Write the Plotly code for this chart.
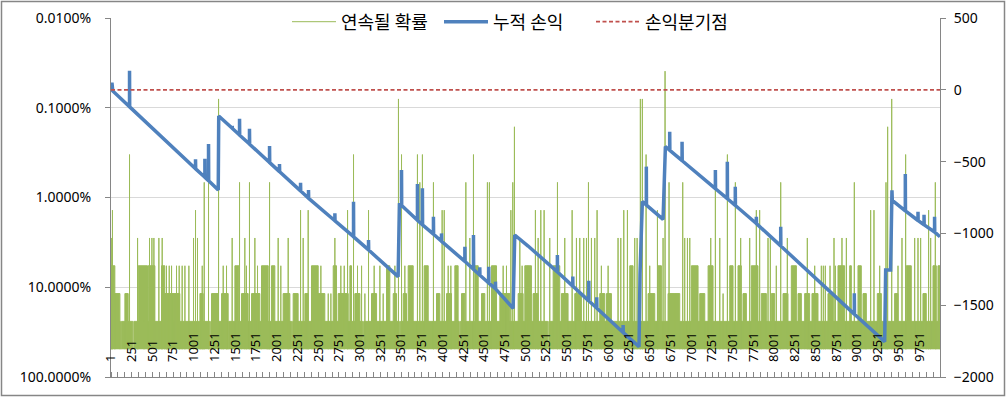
import plotly.graph_objects as go

# ---------------- data ----------------
N_TRADES = 10000

x_tick_vals = [1, 251, 501, 751, 1001, 1251, 1501, 1751, 2001, 2251, 2501, 2751, 3001, 3251,
               3501, 3751, 4001, 4251, 4501, 4751, 5001, 5251, 5501, 5751, 6001, 6251, 6501,
               6751, 7001, 7251, 7501, 7751, 8001, 8251, 8501, 8751, 9001, 9251, 9501, 9751]
x_tick_labels = [str(v) for v in x_tick_vals]

left_tick_vals = [0.0001, 0.001, 0.01, 0.1, 1.0]
left_tick_text = ["0.0100%", "0.1000%", "1.0000%", "10.0000%", "100.0000%"]
right_tick_vals = [-2000, -1500, -1000, -500, 0, 500]

# probability of a streak of length k (index k), read from the level steps
level_prob = [1.0, 0.49, 0.2401, 0.1176, 0.0576, 0.02825, 0.01384, 0.00678,
              0.00332, 0.00163, 0.000798, 0.000391]

# trades where the dense 2-streak band shows a gap
band_gap_trade = [120, 270, 400, 475, 680, 765, 1077, 1197, 1414, 1764, 1888, 2186, 2360,
                  2439, 3042, 3485, 4208, 4232, 5276, 6370, 7950, 8420, 9100]

# streak peaks (from trade, to trade, streak length)
streak_from = [1, 3, 18, 47, 168, 224, 321, 329, 449, 465, 494, 518, 578, 610, 618, 650, 670, 703,
               731, 771, 791, 823, 859, 892, 940, 996, 1020, 1044, 1073, 1101, 1125, 1177, 1213,
               1298, 1334, 1354, 1394, 1462, 1495, 1551, 1575, 1615, 1635, 1671, 1696, 1736, 1768,
               1816, 1913, 1937, 2017, 2049, 2077, 2138, 2198, 2287, 2319, 2339, 2379, 2419,
               2500, 2532, 2621, 2653, 2681, 2701, 2741, 2773, 2814, 2854, 2882, 2926, 2942, 2974,
               3023, 3063, 3107, 3143, 3175, 3244, 3284, 3324, 3405, 3425, 3468, 3505, 3525, 3545,
               3585, 3697, 3726, 3757, 3778, 3890, 3927, 3995, 4020, 4048, 4068, 4100, 4148, 4229,
               4281, 4329, 4373, 4389, 4470, 4541, 4565, 4590, 4691, 4731, 4771, 4824, 4847, 4867,
               4912, 4932, 4960, 4992,
               5032, 5092, 5120, 5153, 5185, 5225, 5293, 5334, 5386, 5434, 5474, 5563, 5595, 5615,
               5655, 5703, 5736, 5760, 5796, 5836, 5864, 5896, 5916, 5977, 5997, 6117, 6150, 6186,
               6230, 6258, 6318, 6347, 6386, 6410, 6455, 6479, 6499, 6592, 6600, 6660, 6684, 6720,
               6732, 6801, 6897, 6921, 6954, 6982, 7002, 7102, 7203, 7235, 7291, 7344, 7384, 7436,
               7464, 7532,
               7564, 7596, 7624, 7705, 7725, 7785, 7825, 7845, 7926, 7954, 7966, 8026, 8079, 8107,
               8159, 8207, 8288, 8368, 8400, 8456, 8489, 8569, 8593, 8617, 8649, 8674, 8722, 8738,
               8770, 8818, 8871, 8911, 8967, 9011, 9072, 9164, 9204, 9244, 9273, 9349, 9369, 9418,
               9453, 9494, 9542, 9586, 9594, 9695, 9735, 9767, 9795, 9863, 9888, 9916, 9944, 9976]
streak_to = [47, 3, 18, 108, 208, 224, 321, 441, 530, 465, 494, 518, 578, 650, 618, 771, 670, 703,
             731, 831, 791, 823, 859, 892, 940, 996, 1020, 1044, 1113, 1101, 1125, 1177, 1294,
             1298, 1414, 1354, 1394, 1462, 1543, 1551, 1655, 1615, 1635, 1671, 1796, 1736, 1768,
             1897, 1913, 1977, 2017, 2049, 2158, 2138, 2258, 2287, 2319, 2379, 2379, 2500,
             2580, 2532, 2621, 2653, 2721, 2701, 2862, 2773, 2814, 2854, 2902, 2926, 3003, 2974,
             3023, 3063, 3107, 3204, 3175, 3244, 3284, 3364, 3445, 3425, 3468, 3505, 3565, 3545,
             3646, 3697, 3726, 3757, 3827, 3890, 3967, 3995, 4020, 4108, 4068, 4100, 4188, 4269,
             4281, 4329, 4373, 4430, 4510, 4541, 4565, 4651, 4812, 4731, 4771, 4824, 4847, 4867,
             4972, 4932, 4960, 5032,
             5072, 5153, 5120, 5153, 5185, 5225, 5293, 5414, 5386, 5514, 5474, 5563, 5675, 5615,
             5655, 5703, 5736, 5760, 5796, 5836, 5864, 5957, 5916, 6037, 5997, 6117, 6150, 6186,
             6230, 6298, 6318, 6347, 6386, 6410, 6455, 6560, 6499, 6592, 6640, 6660, 6684, 6801,
             6732, 6861, 6897, 6921, 6954, 6982, 7082, 7163, 7263, 7235, 7291, 7344, 7384, 7436,
             7504, 7532,
             7604, 7596, 7665, 7705, 7805, 7785, 7825, 7906, 7926, 7954, 8006, 8026, 8079, 8167,
             8159, 8268, 8328, 8428, 8400, 8529, 8489, 8569, 8593, 8617, 8710, 8674, 8722, 8738,
             8850, 8818, 8871, 8931, 8967, 9051, 9112, 9164, 9204, 9293, 9273, 9349, 9369, 9418,
             9494, 9494, 9542, 9586, 9654, 9695, 9735, 9767, 9835, 9863, 9888, 9956, 9944, 10000]
streak_len = [4, 5, 6, 3, 3, 8, 5, 4, 4, 5, 5, 5, 5, 4, 5, 3, 4, 4,
              4, 3, 4, 4, 4, 4, 4, 5, 6, 5, 3, 4, 7, 7, 3,
              10, 3, 4, 4, 5, 4, 7, 3, 5, 4, 7, 3, 5, 4,
              4, 7, 4, 5, 4, 3, 5, 3, 6, 5, 3, 6, 4,
              3, 4, 3, 3, 4, 5, 3, 4, 4, 6, 4, 8, 3, 4,
              4, 3, 6, 3, 4, 4, 3, 4, 3, 4, 10, 8, 3, 4,
              4, 8, 7, 8, 4, 7, 3, 6, 6, 3, 4, 4, 4, 3,
              7, 5, 8, 4, 3, 7, 7, 4, 3, 4, 4, 6, 7, 9,
              3, 5, 4, 4,
              4, 3, 6, 5, 6, 6, 5, 4, 7, 3, 5, 6, 3, 5,
              5, 5, 5, 7, 5, 5, 6, 3, 4, 3, 4, 5, 5, 6,
              6, 4, 5, 5, 10, 10, 8, 3, 4, 6, 4, 5, 11, 3,
              7, 3, 7, 5, 5, 5, 4, 3, 4, 5, 7, 5, 3, 8,
              4, 7,
              4, 5, 3, 5, 4, 6, 6, 3, 5, 5, 3, 4, 7, 3,
              5, 4, 3, 3, 5, 3, 4, 4, 4, 4, 3, 4, 5, 4,
              4, 5, 5, 4, 7, 4, 3, 6, 6, 3, 4, 7, 9, 10,
              3, 4, 5, 8, 4, 5, 5, 5, 3, 6, 5, 4, 7, 4]

# cumulative profit / loss (trade, value)
pnl_trade = [1, 12, 22, 224, 224, 226, 1020, 1020, 1022, 1133, 1133, 1135, 1177, 1177, 1179,
             1294, 1300, 1463, 1463, 1465, 1551, 1551, 1553, 1671, 1671, 1673, 1913, 1913, 1915,
             2033, 2033, 2035, 2287, 2287, 2289, 2383, 2383, 2385, 2701, 2701, 2703, 2926, 2926,
             2928, 3107, 3107, 3109, 3464, 3480, 3505, 3505, 3507, 3697, 3697, 3699, 3757, 3757,
             3759, 3890, 3890, 3892, 3987, 3987, 3989, 4269, 4269, 4271, 4373, 4373, 4375, 4449,
             4449, 4451, 4557, 4557, 4559, 4638, 4638, 4640, 4851, 4855, 4862, 4871, 5032, 5385,
             5385, 5387, 5571, 5571, 5573, 5764, 5764, 5766, 5860, 5860, 5862, 6178, 6178, 6180,
             6370, 6382, 6410, 6458, 6458, 6460, 6660, 6688, 6740, 6740, 6742, 6889, 6889, 6891,
             7291, 7291, 7293, 7435, 7435, 7437, 7531, 7531, 7533, 7785, 7785, 7787, 8079, 8079,
             8081, 8967, 8967, 8969, 9333, 9345, 9405, 9421, 9421, 9425, 9582, 9582, 9584, 9735,
             9735, 9737, 9808, 9808, 9810, 9935, 9935, 9937, 10000]
pnl_value = [0, 50, -8, -118, 133, -119, -550, -484, -551, -609, -480, -610, -633, -377, -634,
             -698, -182, -268, -252, -269, -315, -201, -316, -378, -271, -379, -506, -391, -507,
             -570, -517, -571, -704, -647, -705, -755, -698, -756, -912, -860, -913, -1023, -779,
             -1024, -1115, -1046, -1116, -1301, -790, -800, -559, -805, -909, -656, -910, -940, -686,
             -941, -1005, -884, -1006, -1055, -1000, -1056, -1195, -1093, -1196, -1250, -1011, -1251, -1290,
             -1236, -1291, -1345, -1232, -1346, -1385, -1336, -1386, -1522, -1382, -1382, -1011, -1088, -1268,
             -1150, -1269, -1367, -1301, -1368, -1470, -1329, -1471, -1520, -1445, -1521, -1690, -1638, -1691,
             -1789, -1278, -779, -802, -535, -803, -902, -396, -421, -292, -422, -493, -361, -494,
             -688, -559, -689, -758, -501, -759, -805, -675, -806, -931, -884, -932, -1087, -954,
             -1088, -1562, -1417, -1563, -1754, -1255, -1255, -756, -700, -770, -843, -586, -844, -910,
             -849, -911, -940, -870, -941, -990, -884, -991, -1023]

breakeven_value = 0

# ---------------- styling ----------------
W, H = 1006, 397
ML, MR, MT, MB = 111, 66, 18, 20
PW, PH = W - ML - MR, H - MT - MB
GREEN, BLUE, RED = "#9BBB59", "#4F81BD", "#C0504D"
AXIS_GREY = "#868686"
NUM_FONT = "Noto Sans"
KR_FONT = "Noto Sans CJK KR"

# ---------------- build the probability polygons ----------------
base_p = level_prob[1]
band_edges = [1] + sorted(band_gap_trade) + [N_TRADES]
poly_x, poly_y = [], []
for i in range(len(band_edges) - 1):
    a = band_edges[i] + (6 if i > 0 else 0)
    b = band_edges[i + 1] - (6 if i + 1 < len(band_edges) - 1 else 0)
    p = level_prob[2]
    poly_x += [a, a, b, b, None]
    poly_y += [base_p, p, p, base_p, None]
for a, b, k in zip(streak_from, streak_to, streak_len):
    p = level_prob[k]
    poly_x += [a, a, b, b, None]
    poly_y += [base_p, p, p, base_p, None]

fig = go.Figure()
fig.add_trace(go.Scatter(x=poly_x, y=poly_y, mode="lines", fill="toself", fillcolor=GREEN,
                         line=dict(width=0, color=GREEN), showlegend=False, hoverinfo="skip",
                         yaxis="y"))
fig.add_trace(go.Scatter(x=poly_x, y=poly_y, mode="lines", name="연속될 확률",
                         line=dict(width=1, color=GREEN), yaxis="y", connectgaps=False))
fig.add_trace(go.Scatter(x=pnl_trade, y=pnl_value, mode="lines", name="누적 손익",
                         line=dict(width=3.5, color=BLUE), yaxis="y2"))
fig.add_trace(go.Scatter(x=[0.5, N_TRADES + 0.5], y=[breakeven_value, breakeven_value],
                         mode="lines", name="손익분기점",
                         line=dict(width=1.75, color=RED, dash="4px,2.5px"), yaxis="y2"))

# outer chart border
fig.add_shape(type="rect", xref="paper", yref="paper",
              x0=(1.5 - ML) / PW, x1=(W - 1.5 - ML) / PW,
              y0=-(MB - 1.5) / PH, y1=1 + (MT - 1.5) / PH,
              line=dict(color=AXIS_GREY, width=1.5), layer="above")

fig.update_layout(
    width=W, height=H,
    margin=dict(l=ML, r=MR, t=MT, b=MB, pad=0, autoexpand=False),
    paper_bgcolor="white", plot_bgcolor="white",
    showlegend=True,
    legend=dict(orientation="h", x=(287 - ML) / PW, xanchor="left",
                y=1 - (22 - MT) / PH, yanchor="middle",
                font=dict(family=KR_FONT, size=18, color="black"),
                bgcolor="rgba(0,0,0,0)", itemwidth=44, entrywidth=93,
                traceorder="normal"),
    xaxis=dict(range=[0.5, N_TRADES + 0.5], tickmode="array", tickvals=x_tick_vals,
               ticktext=x_tick_labels, tickangle=-90, ticklabelposition="inside",
               ticklabeloverflow="allow",
               ticks="", showline=True, linecolor=AXIS_GREY, linewidth=1,
               showgrid=False, zeroline=False, automargin=False,
               tickfont=dict(family=NUM_FONT, size=13, color="black"),
               ticklabelstandoff=10,
               minor=dict(tickmode="linear", tick0=0.5, dtick=N_TRADES / 120,
                          ticks="inside", ticklen=5, tickcolor=AXIS_GREY, showgrid=False)),
    yaxis=dict(type="log", range=[0, -4], tickmode="array", tickvals=left_tick_vals,
               ticktext=left_tick_text, ticks="outside", ticklen=5, tickcolor=AXIS_GREY,
               showline=True, linecolor=AXIS_GREY, showgrid=True, gridcolor="#D9D9D9",
               zeroline=False, automargin=False,
               tickfont=dict(family=NUM_FONT, size=14, color="black"),
               ticklabelstandoff=11),
    yaxis2=dict(overlaying="y", side="right", range=[-2000, 500], tickmode="array",
                tickvals=right_tick_vals, ticks="outside", ticklen=5, tickcolor=AXIS_GREY,
                showline=True, linecolor=AXIS_GREY, showgrid=False, zeroline=False,
                automargin=False,
                tickfont=dict(family=NUM_FONT, size=14, color="black"),
                ticklabelstandoff=5),
)

fig.write_html("out.html", config={"displayModeBar": False},
               post_script="document.body.style.margin='0px';")
